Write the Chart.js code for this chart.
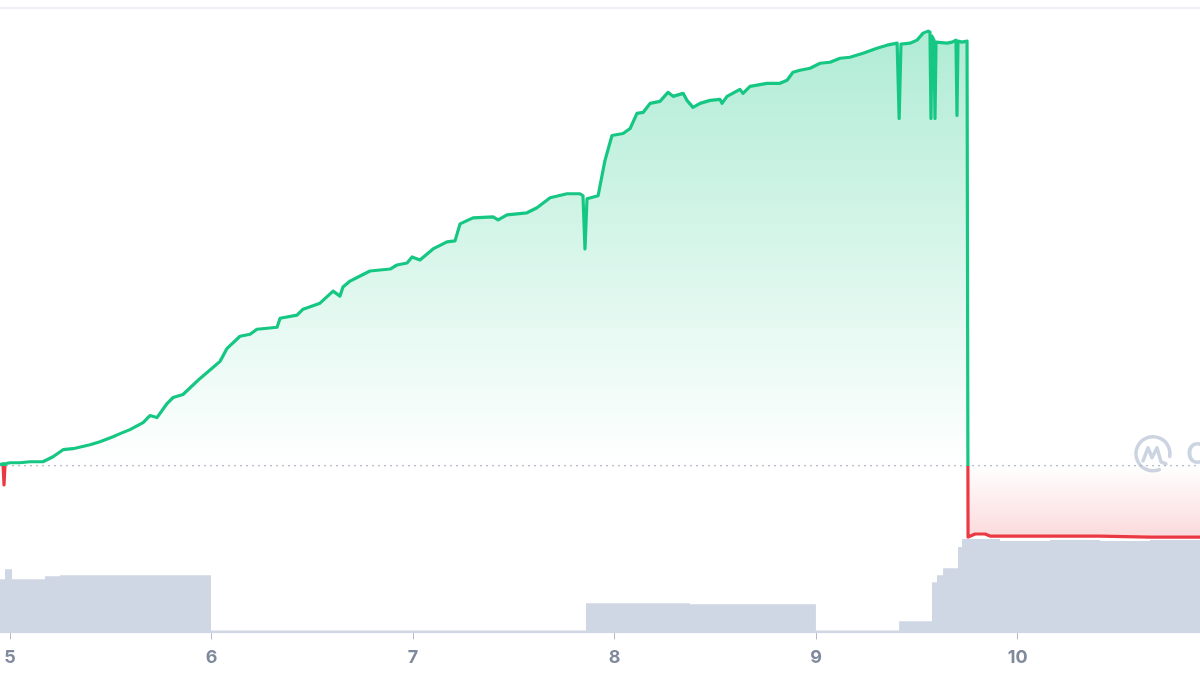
<!DOCTYPE html>
<html>
<head>
<meta charset="utf-8">
<title>Price chart</title>
<script src="https://cdn.jsdelivr.net/npm/chart.js@4.4.1/dist/chart.umd.min.js"></script>
<style>
  html, body { margin: 0; padding: 0; background: #fff; }
  #wrap { position: relative; width: 1200px; height: 675px; overflow: hidden; }
  #topRule { position: absolute; left: 0; top: 7px; width: 1200px; height: 2px; background: #eceff3; }
  canvas { display: block; }
</style>
</head>
<body>
<div id="wrap">
  <canvas id="priceChart" width="1200" height="675"></canvas>
  <div id="topRule"></div>
</div>
<script>
// x axis is in days, ticks 5..10
var X_MIN = 4.95;
var X_MAX = 10.905;
var xTicks = [5, 6, 7, 8, 9, 10];

// price (opening price is the dotted baseline)
var BASE = 0.4175;
var priceDays = [
  4.950, 4.965, 4.970, 4.975, 5.000, 5.049, 5.099, 5.163, 5.213, 5.263,
  5.312, 5.397, 5.446, 5.511, 5.546, 5.595, 5.660, 5.694, 5.729, 5.779,
  5.809, 5.858, 5.943, 6.042, 6.077, 6.141, 6.191, 6.225, 6.325, 6.340,
  6.424, 6.454, 6.538, 6.603, 6.637, 6.652, 6.687, 6.737, 6.786, 6.886,
  6.920, 6.970, 6.995, 7.034, 7.099, 7.168, 7.208, 7.233, 7.297, 7.397,
  7.422, 7.466, 7.565, 7.615, 7.680, 7.764, 7.828, 7.843, 7.853, 7.863,
  7.918, 7.952, 7.987, 8.042, 8.077, 8.111, 8.141, 8.176, 8.225, 8.265,
  8.290, 8.340, 8.359, 8.389, 8.424, 8.474, 8.523, 8.533, 8.558, 8.622,
  8.637, 8.672, 8.756, 8.821, 8.856, 8.885, 8.920, 8.970, 9.020, 9.069,
  9.119, 9.168, 9.233, 9.302, 9.352, 9.402, 9.412, 9.421, 9.466, 9.501,
  9.531, 9.556, 9.565, 9.570, 9.575, 9.585, 9.590, 9.595, 9.650, 9.675,
  9.694, 9.699, 9.704, 9.724, 9.749, 9.754, 9.789, 9.838, 9.863, 10.161,
  10.409, 10.657, 10.905
];
var priceValues = [
  0.4200, 0.4225, 0.3700, 0.4225, 0.4250, 0.4250, 0.4275, 0.4275, 0.4400, 0.4575,
  0.4600, 0.4700, 0.4775, 0.4900, 0.4975, 0.5075, 0.5250, 0.5425, 0.5375, 0.5725,
  0.5875, 0.5950, 0.6350, 0.6775, 0.7100, 0.7400, 0.7450, 0.7575, 0.7625, 0.7850,
  0.7925, 0.8075, 0.8225, 0.8525, 0.8400, 0.8625, 0.8775, 0.8900, 0.9025, 0.9075,
  0.9175, 0.9225, 0.9375, 0.9300, 0.9575, 0.9750, 0.9775, 1.0200, 1.0350, 1.0375,
  1.0300, 1.0425, 1.0475, 1.0600, 1.0850, 1.0950, 1.0950, 1.0900, 0.9575, 1.0825,
  1.0900, 1.1775, 1.2400, 1.2450, 1.2575, 1.2950, 1.2975, 1.3200, 1.3250, 1.3475,
  1.3375, 1.3450, 1.3275, 1.3100, 1.3200, 1.3275, 1.3300, 1.3200, 1.3375, 1.3550,
  1.3450, 1.3625, 1.3700, 1.3700, 1.3775, 1.3975, 1.4025, 1.4075, 1.4200, 1.4225,
  1.4325, 1.4350, 1.4450, 1.4575, 1.4650, 1.4700, 1.2825, 1.4675, 1.4700, 1.4775,
  1.4950, 1.5000, 1.4975, 1.2825, 1.4875, 1.4775, 1.2825, 1.4725, 1.4700, 1.4725,
  1.4775, 1.2900, 1.4750, 1.4725, 1.4750, 0.2400, 0.2475, 0.2475, 0.2425, 0.2425,
  0.2425, 0.2400, 0.2400
];

// volume (each value holds until the next day listed)
var volumeDays = [
  4.950, 4.975, 5.010, 5.173, 5.248, 5.694, 5.997, 7.858, 8.374, 8.999,
  9.412, 9.575, 9.600, 9.630, 9.704, 9.724, 9.913, 10.161, 10.409, 10.657, 10.905
];
var volumeValues = [
  5.4, 6.4, 5.4, 5.7, 5.8, 5.8, 0.3, 3.0, 2.9, 0.3,
  1.2, 5.1, 5.8, 6.5, 8.6, 9.4, 9.2, 9.3, 9.2, 9.3, 9.3
];

var GREEN = '#16c784';
var RED = '#ea3943';

function toPoints(xs, ys) {
    return xs.map(function (x, i) { return { x: x, y: ys[i] }; });
}

// green above the opening price, red below it
function lineColor(context) {
    var chart = context.chart;
    var area = chart.chartArea;
    if (!area) return GREEN;
    var yb = chart.scales.y.getPixelForValue(BASE);
    var stop = (yb - area.top) / (area.bottom - area.top);
    var g = chart.ctx.createLinearGradient(0, area.top, 0, area.bottom);
    g.addColorStop(0, GREEN);
    g.addColorStop(stop, GREEN);
    g.addColorStop(stop, RED);
    g.addColorStop(1, RED);
    return g;
}

function fillColor(context) {
    var chart = context.chart;
    var area = chart.chartArea;
    if (!area) return 'rgba(22,199,132,0.2)';
    var y = chart.scales.y;
    var h = area.bottom - area.top;
    var sTop = (y.getPixelForValue(Math.max.apply(null, priceValues)) - area.top) / h;
    var sBase = (y.getPixelForValue(BASE) - area.top) / h;
    var sLow = (y.getPixelForValue(Math.min.apply(null, priceValues)) - area.top) / h;
    var g = chart.ctx.createLinearGradient(0, area.top, 0, area.bottom);
    g.addColorStop(0, 'rgba(22,199,132,0.36)');
    g.addColorStop(sTop, 'rgba(22,199,132,0.34)');
    g.addColorStop(sBase, 'rgba(22,199,132,0.0)');
    g.addColorStop(sBase, 'rgba(234,57,67,0.0)');
    g.addColorStop(sLow, 'rgba(234,57,67,0.19)');
    g.addColorStop(1, 'rgba(234,57,67,0.19)');
    return g;
}

// faint logo watermark at the right end of the baseline
var watermark = {
    id: 'watermark',
    beforeDatasetsDraw: function (chart) {
        var ctx = chart.ctx;
        var cx = chart.chartArea.right - 47;
        var cy = chart.scales.y.getPixelForValue(BASE) - 12;
        ctx.save();
        ctx.strokeStyle = '#ccd4e2';
        ctx.fillStyle = '#ccd4e2';
        ctx.lineWidth = 3.5;
        ctx.lineCap = 'round';
        ctx.lineJoin = 'round';
        ctx.beginPath();
        ctx.arc(cx, cy, 17, 0.38 * Math.PI, 2.05 * Math.PI);
        ctx.stroke();
        ctx.beginPath();
        ctx.moveTo(cx - 10, cy + 7);
        ctx.lineTo(cx - 5, cy - 6);
        ctx.lineTo(cx - 1, cy + 4);
        ctx.lineTo(cx + 4, cy - 6);
        ctx.lineTo(cx + 8, cy + 8);
        ctx.lineTo(cx + 13, cy + 10);
        ctx.stroke();
        ctx.font = '600 30px Inter';
        ctx.textBaseline = 'middle';
        ctx.fillText('CoinMarketCap', cx + 33, cy + 1);
        ctx.restore();
    }
};

var ctx = document.getElementById('priceChart').getContext('2d');
var myChart = new Chart(ctx, {
    type: 'line',
    data: {
        datasets: [{
            label: 'Price',
            data: toPoints(priceDays, priceValues),
            yAxisID: 'y',
            borderColor: lineColor,
            backgroundColor: fillColor,
            borderWidth: 3.2,
            borderJoinStyle: 'round',
            pointRadius: 0,
            tension: 0,
            fill: { value: BASE }
        }, {
            label: 'Open',
            data: [{ x: X_MIN, y: BASE }, { x: X_MAX, y: BASE }],
            yAxisID: 'y',
            borderColor: '#9ea8b9',
            borderWidth: 1,
            borderDash: [2, 4],
            pointRadius: 0,
            fill: false
        }, {
            label: 'Volume',
            data: toPoints(volumeDays, volumeValues),
            yAxisID: 'yv',
            stepped: true,
            borderWidth: 0,
            borderColor: 'rgba(0,0,0,0)',
            backgroundColor: '#cfd6e4',
            pointRadius: 0,
            fill: 'origin'
        }]
    },
    options: {
        responsive: false,
        animation: false,
        layout: { padding: 0 },
        plugins: {
            legend: { display: false },
            tooltip: { enabled: false }
        },
        scales: {
            x: {
                type: 'linear',
                min: X_MIN,
                max: X_MAX,
                afterBuildTicks: function (axis) {
                    axis.ticks = xTicks.map(function (v) { return { value: v }; });
                },
                // the plot runs edge to edge, no room kept for the end labels
                afterFit: function (axis) {
                    axis.paddingLeft = 0;
                    axis.paddingRight = 0;
                },
                border: { display: false },
                grid: {
                    drawOnChartArea: false,
                    drawTicks: true,
                    tickLength: 6,
                    color: '#b3bbc8'
                },
                ticks: {
                    padding: 7,
                    color: '#808a9d',
                    font: { family: 'Inter', size: 18, weight: '700' },
                    maxRotation: 0
                }
            },
            y: {
                display: false,
                min: 0,
                max: 1.5775
            },
            yv: {
                display: false,
                min: 0,
                max: 63.1
            }
        }
    },
    plugins: [watermark]
});
</script>
</body>
</html>
